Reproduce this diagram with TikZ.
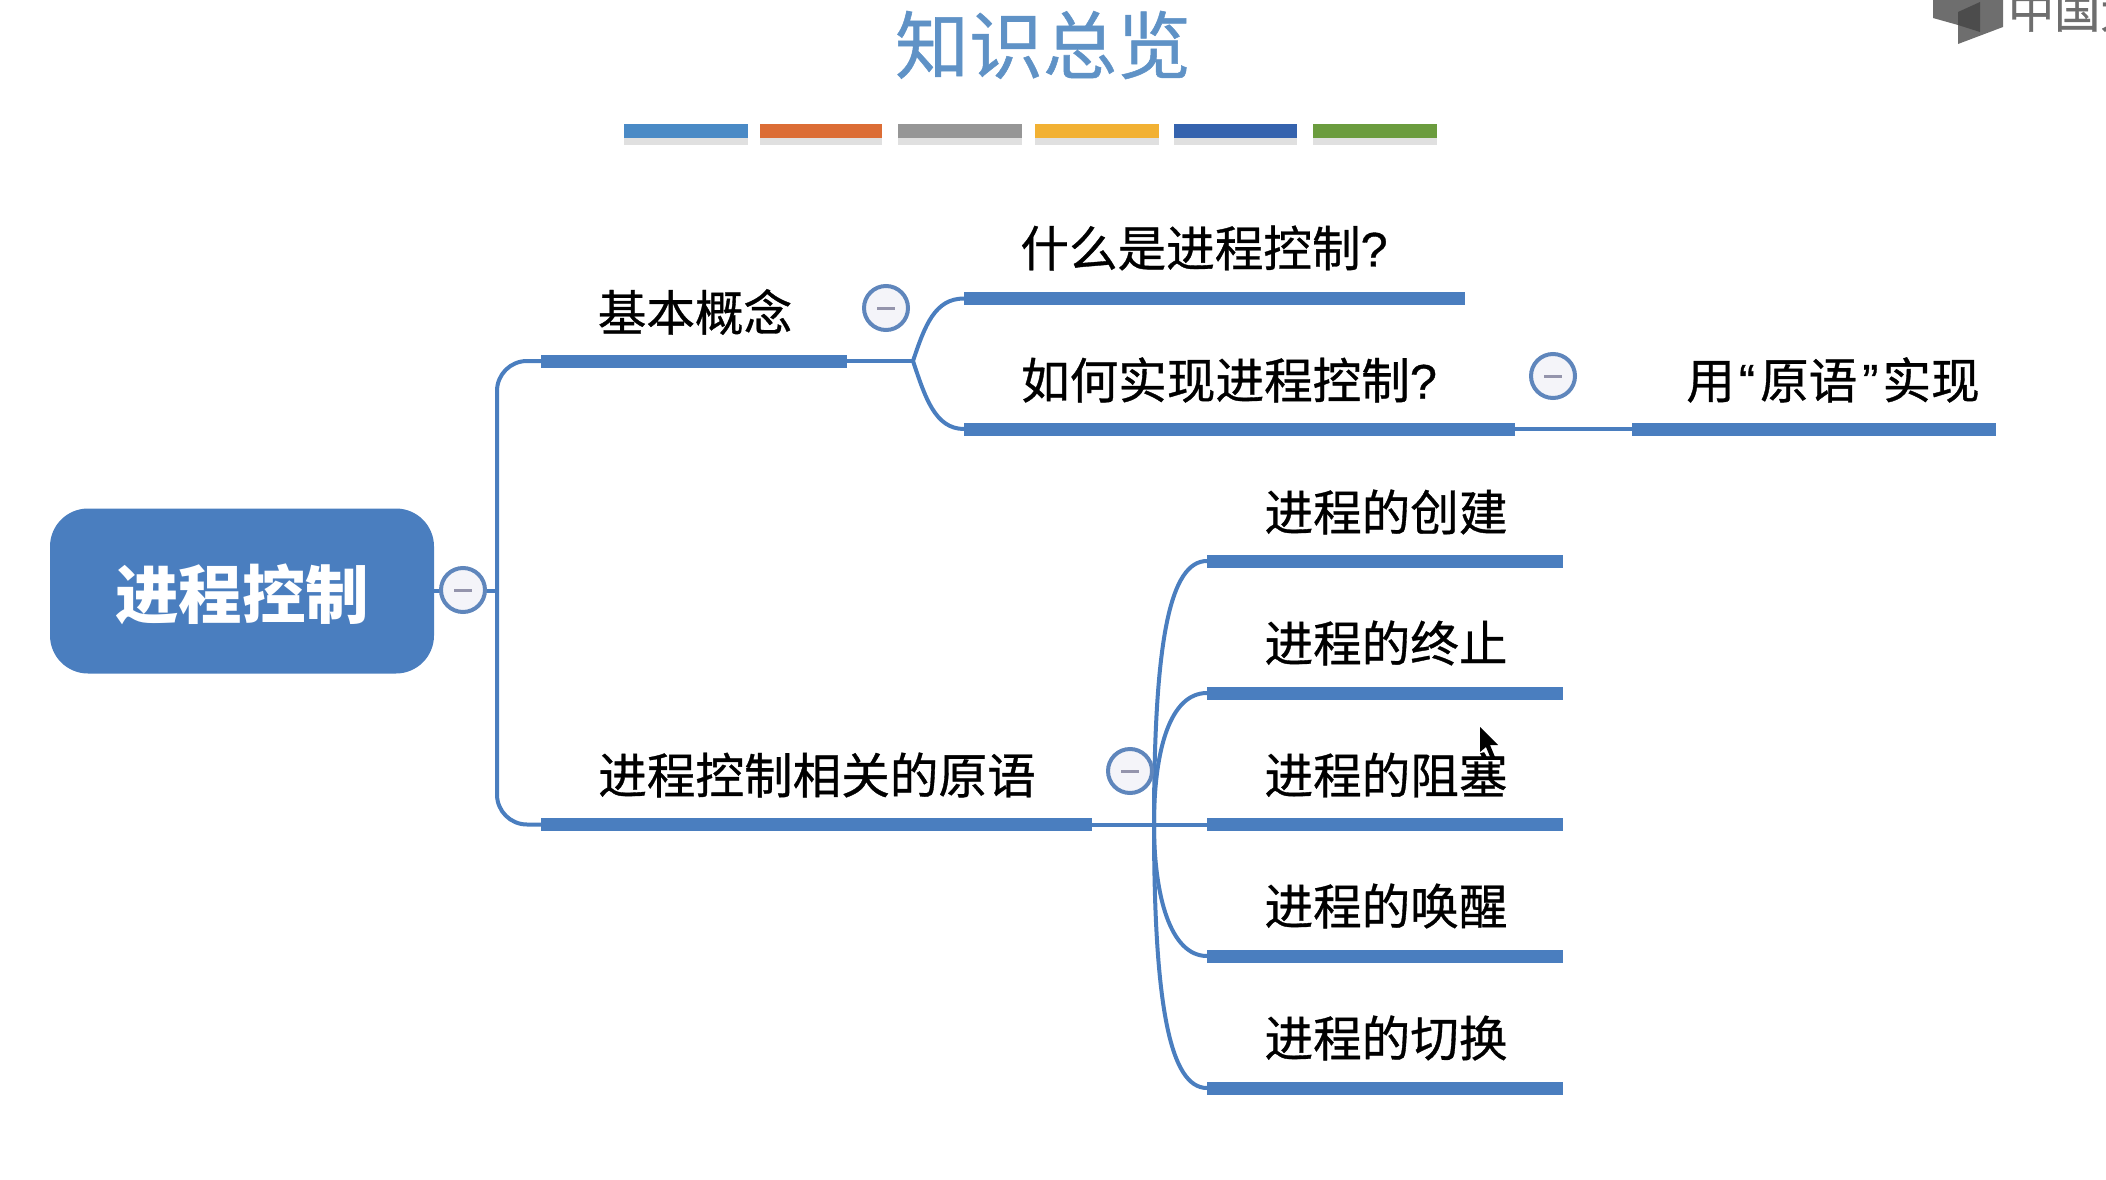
\documentclass[tikz,border=0pt]{standalone}
\usepackage{fontspec}
\setmainfont{Noto Sans CJK SC}
\newfontfamily\mapfont[RawFeature={embolden=0.7}]{Noto Sans CJK SC}
\newfontfamily\quotefont[RawFeature={embolden=0.7}]{Liberation Sans}
\usetikzlibrary{calc}
\definecolor{mapblue}{HTML}{4A7EBF}
\definecolor{titleblue}{HTML}{5F92C6}
\definecolor{togglering}{HTML}{5F86BC}
\definecolor{togglefill}{HTML}{F4F4F9}
\definecolor{togglebar}{HTML}{9494AC}
\definecolor{logogray}{HTML}{6E6E6E}
\definecolor{logodark}{HTML}{4C4C4C}
\tikzset{
    colorbar/.style={minimum height=14pt, inner sep=0pt, outer sep=0pt, anchor=west},
    shadowbar/.style={fill=black, opacity=0.12, minimum height=12pt, inner sep=0pt, anchor=west},
    mapbar/.style={fill=mapblue, minimum height=13pt, inner sep=0pt, outer sep=0pt, anchor=west},
    maptext/.style={font=\mapfont\fontsize{48.6pt}{48.6pt}\selectfont, text=black, inner sep=0pt},
    branch/.style={draw=mapblue, line width=4pt, rounded corners=30pt},
    curve/.style={draw=mapblue, line width=4pt},
    toggle/.style={circle, draw=togglering, fill=togglefill, line width=4pt, minimum size=44pt, inner sep=0pt},
}
\newcommand{\minusbar}[1]{\fill[togglebar] ($(#1)+(-9,-1.5)$) rectangle ($(#1)+(9,1.5)$);}
\begin{document}
\begin{tikzpicture}[x=1pt,y=-1pt]
    \useasboundingbox (0,0) rectangle (2106,1180);

    % Title and the coloured strip below it
    \node[font=\mapfont\fontsize{74pt}{74pt}\selectfont, text=titleblue, inner sep=0pt] (title) at (1043,45) {知识总览};

    \node[shadowbar, minimum width=124pt] (shadowa) at (624,139) {};
    \node[shadowbar, minimum width=122pt] (shadowb) at (760,139) {};
    \node[shadowbar, minimum width=124pt] (shadowc) at (898,139) {};
    \node[shadowbar, minimum width=124pt] (shadowd) at (1035,139) {};
    \node[shadowbar, minimum width=123pt] (shadowe) at (1174,139) {};
    \node[shadowbar, minimum width=124pt] (shadowf) at (1313,139) {};
    \node[colorbar, fill={rgb,255:red,74;green,138;blue,198}, minimum width=124pt] (stripa) at (624,131) {};
    \node[colorbar, fill={rgb,255:red,220;green,109;blue,53}, minimum width=122pt] (stripb) at (760,131) {};
    \node[colorbar, fill={rgb,255:red,150;green,150;blue,150}, minimum width=124pt] (stripc) at (898,131) {};
    \node[colorbar, fill={rgb,255:red,242;green,177;blue,51}, minimum width=124pt] (stripd) at (1035,131) {};
    \node[colorbar, fill={rgb,255:red,53;green,99;blue,174}, minimum width=123pt] (stripe) at (1174,131) {};
    \node[colorbar, fill={rgb,255:red,107;green,156;blue,62}, minimum width=124pt] (stripf) at (1313,131) {};

    % Logo in the corner, cut off by the page
    \begin{scope}
        \clip (0,0) rectangle (2106,1180);
        \fill[logogray] (1933,0) -- (1933,18) -- (1958,25) -- (1958,44) -- (2003,27) -- (2003,0) -- cycle;
        \fill[logodark] (1958,12) -- (1980,2) -- (1980,32) -- (1958,25) -- cycle;
        \node[font=\mapfont\fontsize{46pt}{46pt}\selectfont, text=logogray, anchor=base west, inner sep=0pt] (logotext) at (2008,28) {中国大};
    \end{scope}

    % Root
    \node[fill=mapblue, rounded corners=38pt, minimum width=384pt, minimum height=165pt, inner sep=0pt] (root) at (242,591) {};
    \node[font=\bfseries\fontsize{63.5pt}{63.5pt}\selectfont, text=white, inner sep=0pt] (roottext) at (242,594) {进程控制};

    % Bars of the first level
    \node[mapbar, minimum width=306pt] (barbasic) at (541,361) {};
    \node[mapbar, minimum width=551pt] (barprim) at (541,824.5) {};

    % Bars of the second level
    \node[mapbar, minimum width=501pt] (barwhat) at (964,298.5) {};
    \node[mapbar, minimum width=551pt] (barhow) at (964,429) {};
    \node[mapbar, minimum width=364pt] (barorig) at (1632,429) {};
    \node[mapbar, minimum width=356pt] (barcreate) at (1207,561) {};
    \node[mapbar, minimum width=356pt] (barstop) at (1207,693) {};
    \node[mapbar, minimum width=356pt] (barblock) at (1207,824.5) {};
    \node[mapbar, minimum width=356pt] (barwake) at (1207,956) {};
    \node[mapbar, minimum width=356pt] (barswitch) at (1207,1088) {};

    % Places where the branches split
    \coordinate (hubroot) at (497,591);
    \coordinate (hubbasic) at (913,361);
    \coordinate (hubprim) at (1154,824.5);

    % Connectors
    \draw[curve] (root.east) -- (hubroot);
    \draw[branch] (barbasic.west) -- (hubroot |- barbasic.west) -- (hubroot |- barprim.west) -- (barprim.west);
    \draw[curve] (barbasic.east) -- (hubbasic);
    \draw[curve] (hubbasic) .. controls (925,325) and (935,298.5) .. (barwhat.west);
    \draw[curve] (hubbasic) .. controls (925,397) and (935,429) .. (barhow.west);
    \draw[curve] (barhow.east) -- (barorig.west);
    \draw[curve] (barprim.east) -- (barblock.west);
    \draw[curve] (hubprim) .. controls (1154,640) and (1170,561) .. (barcreate.west);
    \draw[curve] (hubprim) .. controls (1154,750) and (1170,693) .. (barstop.west);
    \draw[curve] (hubprim) .. controls (1154,895) and (1170,956) .. (barwake.west);
    \draw[curve] (hubprim) .. controls (1154,1005) and (1170,1088) .. (barswitch.west);

    % Collapse buttons
    \node[toggle] (toggleroot) at (463,590) {};
    \node[toggle] (togglebasic) at (886,308) {};
    \node[toggle] (togglehow) at (1553,376) {};
    \node[toggle] (toggleprim) at (1130,771) {};
    \minusbar{toggleroot}
    \minusbar{togglebasic}
    \minusbar{togglehow}
    \minusbar{toggleprim}

    % Labels
    \node[maptext] (textbasic) at (695,312) {基本概念};
    \node[maptext] (textprim) at (817,775) {进程控制相关的原语};
    \node[maptext] (textwhat) at (1204,248) {什么是进程控制{\quotefont ?}};
    \node[maptext] (texthow) at (1229,380) {如何实现进程控制{\quotefont ?}};
    \node[maptext] (textorig) at (1833,380) {用\hspace{4pt}{\quotefont “}\hspace{5pt}原语\hspace{5pt}{\quotefont ”}\hspace{4pt}实现};
    \node[maptext] (textcreate) at (1386,512) {进程的创建};
    \node[maptext] (textstop) at (1386,643) {进程的终止};
    \node[maptext] (textblock) at (1386,775) {进程的阻塞};
    \node[maptext] (textwake) at (1386,906) {进程的唤醒};
    \node[maptext] (textswitch) at (1386,1038) {进程的切换};

    % Mouse pointer
    \fill[black] (1480,727) -- (1480,752) -- (1486,747) -- (1491,759) -- (1495,757) -- (1490,745) -- (1498,745) -- cycle;
\end{tikzpicture}
\end{document}
